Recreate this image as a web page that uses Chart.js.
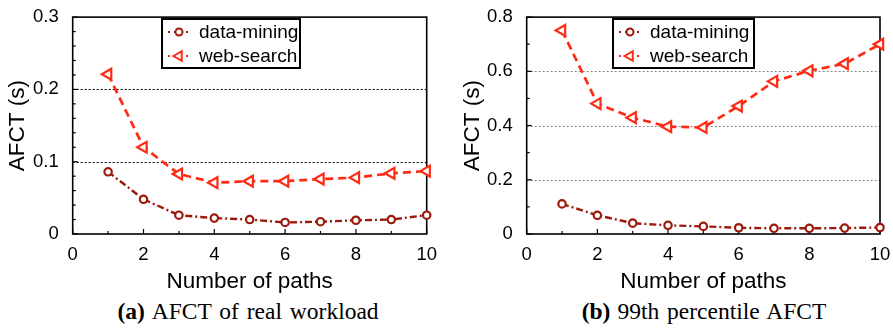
<!DOCTYPE html>
<html>
<head>
<meta charset="utf-8">
<script src="https://cdn.jsdelivr.net/npm/chart.js@4/dist/chart.umd.min.js"></script>
<style>
  body { margin: 0; background: #fff; }
  #wrap { position: relative; width: 893px; height: 330px; overflow: hidden; }
  .pane { position: absolute; top: 0; height: 295px; }
  .cap { position: absolute; top: 299px; font: 23.5px "Liberation Serif", serif; line-height: 24px;
         color: #000; white-space: nowrap; transform: translateX(-50%); word-spacing: 2px; }
  .cap b { margin-right: 7px; }
</style>
</head>
<body>
<div id="wrap">
  <div class="pane" style="left:0;width:446px"><canvas id="chartA" width="446" height="295"></canvas></div>
  <div class="pane" style="left:446px;width:447px"><canvas id="chartB" width="447" height="295"></canvas></div>
  <div class="cap" style="left:248px"><b>(a)</b>AFCT of real workload</div>
  <div class="cap" style="left:704px"><b>(b)</b>99th percentile AFCT</div>
</div>
<script>
var paths = [1, 2, 3, 4, 5, 6, 7, 8, 9, 10];
var seriesNames = ['data-mining', 'web-search'];

// (a) AFCT of real workload
var meanMining = [0.086, 0.048, 0.026, 0.022, 0.020, 0.016, 0.017, 0.019, 0.020, 0.026];
var meanSearch = [0.221, 0.120, 0.083, 0.071, 0.073, 0.073, 0.076, 0.078, 0.084, 0.087];

// (b) 99th percentile AFCT
var tailMining = [0.111, 0.069, 0.040, 0.032, 0.028, 0.023, 0.021, 0.021, 0.022, 0.024];
var tailSearch = [0.751, 0.481, 0.429, 0.396, 0.393, 0.472, 0.563, 0.602, 0.628, 0.700];

var xTicks = [0, 2, 4, 6, 8, 10];
var yTicksA = [0, 0.1, 0.2, 0.3];
var yTicksB = [0, 0.2, 0.4, 0.6, 0.8];

var darkRed = '#9b1a0b';
var red = '#ff2a14';
var font = '"Liberation Sans", Arial, sans-serif';

function toPoints(vals) {
  return vals.map(function (v, i) { return { x: paths[i], y: v }; });
}

function makeDatasets(mining, search) {
  return [{
    label: seriesNames[0],
    data: toPoints(mining),
    borderColor: darkRed,
    borderWidth: 2.4,
    borderDash: [7, 3, 2, 3],
    pointStyle: 'circle',
    pointRadius: 3.7,
    pointBorderWidth: 2.2,
    pointBackgroundColor: '#fff',
    pointBorderColor: darkRed,
    tension: 0,
    clip: false
  }, {
    label: seriesNames[1],
    data: toPoints(search),
    borderColor: red,
    borderWidth: 2.7,
    borderDash: [8, 5],
    pointStyle: 'triangle',
    pointRotation: -90,
    pointRadius: 6.3,
    pointBorderWidth: 2.2,
    pointBackgroundColor: '#fff',
    pointBorderColor: red,
    tension: 0,
    clip: false
  }];
}

// frame, dotted grid, inward ticks and boxed legend
var framePlugin = {
  id: 'frame',
  beforeDatasetsDraw: function (chart, args, opts) {
    var ctx = chart.ctx, a = chart.chartArea, x = chart.scales.x, y = chart.scales.y;
    ctx.save();
    ctx.strokeStyle = opts.gridColor;
    ctx.lineWidth = 1;
    ctx.setLineDash([2, 2]);
    opts.grid.forEach(function (v) {
      var py = Math.round(y.getPixelForValue(v)) + 0.5;
      ctx.beginPath(); ctx.moveTo(a.left, py); ctx.lineTo(a.right, py); ctx.stroke();
    });
    ctx.setLineDash([]);
    ctx.strokeStyle = '#000';
    ctx.lineWidth = 1.2;
    var n = Math.round(y.max / opts.yMinor);
    for (var i = 0; i <= n; i++) {
      var py = y.getPixelForValue(i * opts.yMinor);
      var len = (i % opts.yMajorEvery === 0) ? 5 : 3;
      ctx.beginPath(); ctx.moveTo(a.left, py); ctx.lineTo(a.left + len, py); ctx.stroke();
    }
    for (var j = 0; j <= 10; j++) {
      var px = x.getPixelForValue(j);
      var l2 = (j % 2 === 0) ? 5 : 3;
      ctx.beginPath(); ctx.moveTo(px, a.bottom); ctx.lineTo(px, a.bottom - l2); ctx.stroke();
    }
    ctx.lineWidth = 1.6;
    ctx.strokeRect(a.left, a.top, a.right - a.left, a.bottom - a.top);
    ctx.restore();
  },
  afterDraw: function (chart, args, opts) {
    var ctx = chart.ctx, L = opts.legend;
    ctx.save();
    ctx.fillStyle = '#fff';
    ctx.fillRect(L.x, L.y, L.w, L.h);
    ctx.lineWidth = 2;
    ctx.strokeStyle = '#000';
    ctx.strokeRect(L.x, L.y, L.w, L.h);
    chart.data.datasets.forEach(function (ds, i) {
      var cy = L.y + 13 + i * 24;
      var mx = L.x + 17;
      ctx.strokeStyle = ds.borderColor;
      ctx.lineWidth = 2;
      ctx.setLineDash([2, 4]);
      ctx.beginPath(); ctx.moveTo(mx - 11, cy); ctx.lineTo(mx + 11, cy); ctx.stroke();
      ctx.setLineDash([]);
      ctx.fillStyle = '#fff';
      ctx.strokeStyle = ds.borderColor;
      Chart.helpers.drawPoint(ctx, {
        pointStyle: ds.pointStyle,
        radius: ds.pointStyle === 'triangle' ? 5.5 : 3.5,
        rotation: ds.pointRotation || 0,
        borderWidth: 2
      }, mx, cy);
      ctx.fillStyle = '#000';
      ctx.font = '19px ' + font;
      ctx.textBaseline = 'middle';
      ctx.textAlign = 'left';
      ctx.fillText(ds.label, L.x + 37, cy + 1);
    });
    ctx.restore();
  }
};

function makeChart(id, mining, search, yMax, cfg) {
  return new Chart(document.getElementById(id), {
    type: 'line',
    data: { datasets: makeDatasets(mining, search) },
    plugins: [framePlugin],
    options: {
      responsive: false,
      animation: false,
      layout: { padding: { left: 0, top: 15, right: cfg.padRight, bottom: 0 } },
      plugins: {
        legend: { display: false },
        tooltip: { enabled: false },
        frame: cfg.frame
      },
      scales: {
        x: {
          type: 'linear',
          min: 0, max: 10,
          afterBuildTicks: function (s) { s.ticks = xTicks.map(function (v) { return { value: v }; }); },
          ticks: { font: { size: 18.5, family: font }, color: '#000', padding: 2, maxRotation: 0 },
          grid: { display: false },
          border: { display: false },
          title: { display: true, text: 'Number of paths', color: '#000',
                   font: { size: 22.5, family: font }, padding: { top: 0, bottom: 0 } },
          afterFit: function (s) { s.height = 61; }
        },
        y: {
          min: 0, max: yMax,
          afterBuildTicks: function (s) { s.ticks = cfg.yTicks.map(function (v) { return { value: v }; }); },
          ticks: {
            font: { size: 18.5, family: font }, color: '#000', padding: 6,
            callback: function (v) { return v === 0 ? '0' : Number(v).toFixed(1); }
          },
          grid: { display: false },
          border: { display: false },
          title: { display: true, text: 'AFCT (s)', color: '#000',
                   font: { size: 22.5, family: font }, padding: { top: cfg.titlePad, bottom: 0 } },
          afterFit: function (s) { s.width = cfg.yWidth; }
        }
      }
    }
  });
}

makeChart('chartA', meanMining, meanSearch, 0.3, {
  padRight: 19.3, yWidth: 72.7, titlePad: 4, yTicks: yTicksA,
  frame: { grid: [0.1, 0.2], gridColor: '#000', yMinor: 0.02, yMajorEvery: 5,
           legend: { x: 162, y: 19, w: 138, h: 49 } }
});

makeChart('chartB', tailMining, tailSearch, 0.8, {
  padRight: 13, yWidth: 80.7, titlePad: 12.8, yTicks: yTicksB,
  frame: { grid: [0.2, 0.4, 0.6], gridColor: '#888', yMinor: 0.1, yMajorEvery: 2,
           legend: { x: 167, y: 19, w: 141, h: 49 } }
});
</script>
</body>
</html>
